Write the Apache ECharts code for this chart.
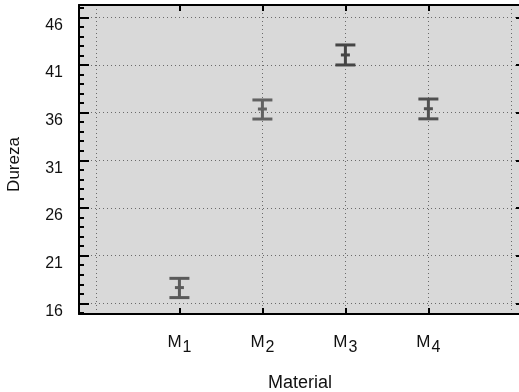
<!DOCTYPE html>
<html>
<head>
<meta charset="utf-8">
<script src="https://cdn.jsdelivr.net/npm/echarts@6/dist/echarts.min.js"></script>
<style>
  html, body { margin: 0; padding: 0; background: #fff; }
  #chart { width: 519px; height: 392px; }
</style>
</head>
<body>
<div id="chart"></div>
<script>
// x positions of the four materials on a numeric axis
const materials = ["1", "2", "3", "4"];
const positions = [1, 2, 3, 4];
const means = [17.65, 36.38, 42.05, 36.41];
const lower = [16.6, 35.33, 41.0, 35.35];
const upper = [18.62, 37.33, 43.1, 37.43];
const barColors = ["#5a5a5a", "#626262", "#454545", "#505050"];

const yMajor = [16, 21, 26, 31, 36, 41, 46];
const yMinor = [15, 17, 18, 19, 20, 22, 23, 24, 25, 27, 28, 29, 30, 32, 33, 34, 35,
  37, 38, 39, 40, 42, 43, 44, 45, 47];
const xGrid = [0, 2, 3, 4, 5];

const Y_MIN = 14.88, Y_MAX = 47.29;
const X_MIN = -0.21, X_MAX = 5.116;

const font = "'Liberation Sans', Arial, sans-serif";
const dotted = { color: "#6a6a6a", width: 1, type: [1, 3] };
const axisLine = { show: true, onZero: false, lineStyle: { color: "#000", width: 2 } };

const chart = echarts.init(document.getElementById("chart"));

chart.setOption({
  backgroundColor: "#ffffff",
  animation: false,
  grid: {
    left: 79, right: -2, top: 5, bottom: 78,
    outerBoundsMode: "none", containLabel: false,
    show: true, backgroundColor: "#d9d9d9", borderWidth: 0
  },
  xAxis: [
    {
      type: "value", position: "bottom", min: X_MIN, max: X_MAX,
      name: "Material", nameLocation: "middle", nameGap: 60,
      nameTextStyle: { fontFamily: font, fontSize: 18, color: "#111" },
      axisLine,
      axisTick: { show: true, inside: true, length: 6, lineStyle: { color: "#000", width: 2 },
        customValues: positions },
      axisLabel: {
        customValues: positions, margin: 14,
        formatter: (v) => "M{sub|" + materials[positions.indexOf(v)] + "}",
        rich: { sub: { fontFamily: font, fontSize: 16, color: "#111", padding: [12, 0, 0, 1] } },
        fontFamily: font, fontSize: 17, color: "#111"
      },
      splitLine: { show: false }
    },
    {
      type: "value", position: "top", min: X_MIN, max: X_MAX,
      axisLine,
      axisTick: { show: true, inside: true, length: 6, lineStyle: { color: "#000", width: 2 },
        customValues: positions },
      axisLabel: { show: false },
      splitLine: { show: false }
    },
    {
      type: "value", position: "bottom", min: X_MIN, max: X_MAX,
      axisLine: { show: false, onZero: false },
      axisTick: { show: false, customValues: xGrid },
      axisLabel: { show: false },
      splitLine: { show: true, lineStyle: dotted }
    }
  ],
  yAxis: [
    {
      type: "value", position: "left", min: Y_MIN, max: Y_MAX,
      name: "Dureza", nameLocation: "middle", nameGap: 56, nameRotate: 90,
      nameTextStyle: { fontFamily: font, fontSize: 17, color: "#111", padding: [0, 10, 0, 0] },
      axisLine,
      axisTick: { show: true, inside: true, length: 10, lineStyle: { color: "#000", width: 2 },
        customValues: yMajor },
      axisLabel: {
        customValues: yMajor, margin: 16, verticalAlign: "top",
        fontFamily: font, fontSize: 16, color: "#111"
      },
      splitLine: { show: true, lineStyle: dotted }
    },
    {
      type: "value", position: "left", min: Y_MIN, max: Y_MAX,
      axisLine: { show: false, onZero: false },
      axisTick: { show: true, inside: true, length: 5, lineStyle: { color: "#000", width: 2 },
        customValues: yMinor },
      axisLabel: { show: false },
      splitLine: { show: false }
    },
    {
      type: "value", position: "right", min: Y_MIN, max: Y_MAX,
      axisLine,
      axisTick: { show: true, inside: true, length: 5, lineStyle: { color: "#000", width: 2 },
        customValues: yMajor },
      axisLabel: { show: false },
      splitLine: { show: false }
    }
  ],
  series: [
    {
      type: "custom",
      xAxisIndex: 0,
      yAxisIndex: 0,
      data: positions.map((p, i) => [p, lower[i], upper[i], means[i]]),
      encode: { x: 0, y: [1, 2, 3] },
      renderItem: (params, api) => {
        const x = api.value(0);
        const lo = api.coord([x, api.value(1)]);
        const hi = api.coord([x, api.value(2)]);
        const mid = api.coord([x, api.value(3)]);
        const color = barColors[params.dataIndex];
        const style = { stroke: color, lineWidth: 3, fill: null };
        const capHalf = 10;
        return {
          type: "group",
          children: [
            { type: "line", shape: { x1: hi[0], y1: hi[1], x2: lo[0], y2: lo[1] }, style },
            { type: "line", shape: { x1: hi[0] - capHalf, y1: hi[1], x2: hi[0] + capHalf, y2: hi[1] }, style },
            { type: "line", shape: { x1: lo[0] - capHalf, y1: lo[1], x2: lo[0] + capHalf, y2: lo[1] }, style },
            { type: "line", shape: { x1: mid[0] - 4.5, y1: mid[1], x2: mid[0] + 4.5, y2: mid[1] }, style }
          ]
        };
      }
    }
  ]
});
</script>
</body>
</html>
